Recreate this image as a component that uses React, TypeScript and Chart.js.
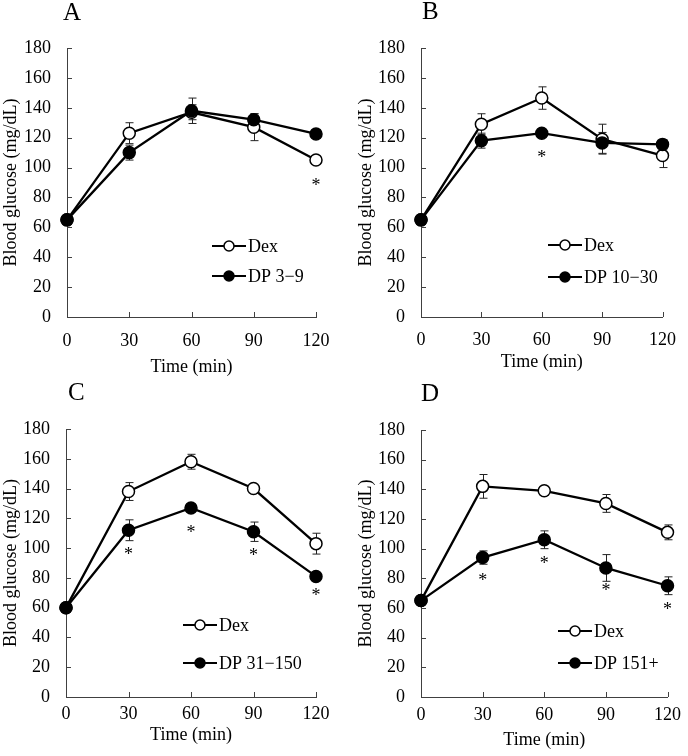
import React, { useEffect, useRef } from "react";
import { Chart, registerables } from "chart.js";

Chart.register(...registerables);

// ---------------- data ----------------
const times = [0, 30, 60, 90, 120];
const xTickStep = 30;
const yTickStep = 20;
const yMax = 180;
const xMax = 120;

const panelLetters = ["A", "B", "C", "D"];
const dexLabel = "Dex";
const dpLabels = ["DP 3\u22129", "DP 10\u221230", "DP 31\u2212150", "DP 151+"];

const dexA = [65, 123, 137, 127, 105];
const dexErrA = [0, 7, 5, 9, 2];
const dpA = [65, 110, 138, 132, 122.5];
const dpErrA = [0, 5, 8.5, 4, 3];
const starA = [null, null, null, null, 90];

const dexB = [65, 129, 146.5, 119, 108];
const dexErrB = [0, 7, 7.5, 10, 8];
const dpB = [65, 118, 123, 116.5, 115.5];
const dpErrB = [0, 5, 2, 7, 3];
const starB = [null, null, 108.5, null, null];

const dexC = [60, 138, 158, 140, 103];
const dexErrC = [0, 6, 5, 2, 7];
const dpC = [60, 112, 127, 111, 81];
const dpErrC = [0, 7, 2, 6.5, 2];
const starC = [null, 97.5, 112.5, 96.5, 70];

const dexD = [65, 142, 139, 130.5, 111];
const dexErrD = [0, 8, 3, 6, 5];
const dpD = [65, 94, 106, 87, 75];
const dpErrD = [0, 4.5, 6, 9, 6];
const starD = [null, 80, 92, 73.5, 60.5];

const dexSeries = [dexA, dexB, dexC, dexD];
const dexErrSeries = [dexErrA, dexErrB, dexErrC, dexErrD];
const dpSeries = [dpA, dpB, dpC, dpD];
const dpErrSeries = [dpErrA, dpErrB, dpErrC, dpErrD];
const starSeries = [starA, starB, starC, starD];

// ---------------- layout / style ----------------
const FONT = '"Liberation Serif", "Times New Roman", Times, serif';
const AXIS_COLOR = "#404040";
const CANVAS_W = 344;
const CANVAS_H = 378;

const LAYOUT = [
  { left: 0, top: 0, padL: 0, padR: 28, padT: 48, padB: 0, yW: 67, xH: 61, xTickPad: 13, letterX: 63, letterY: 20, legX: 212, legY1: 246, legY2: 276 },
  { left: 344, top: 0, padL: 11, padR: 18, padT: 48, padB: 5, yW: 66, xH: 56, xTickPad: 12, letterX: 78, letterY: 19, legX: 204, legY1: 245, legY2: 277 },
  { left: 0, top: 378, padL: 0, padR: 28, padT: 51, padB: 10, yW: 66, xH: 49, xTickPad: 6, letterX: 68, letterY: 22, legX: 183, legY1: 247, legY2: 285 },
  { left: 344, top: 378, padL: 11, padR: 15, padT: 52, padB: 5, yW: 66, xH: 54, xTickPad: 7, letterX: 77, letterY: 23, legX: 214, legY1: 253, legY2: 285 },
];

function makePlugin(idx: number) {
  const L = LAYOUT[idx];
  return {
    id: "panelExtras" + idx,
    beforeDatasetsDraw(chart: any) {
      const ctx = chart.ctx;
      const xs = chart.scales.x;
      const ys = chart.scales.y;
      const { left, bottom } = chart.chartArea;
      ctx.save();
      // inward tick marks
      ctx.strokeStyle = AXIS_COLOR;
      ctx.lineWidth = 1;
      xs.ticks.forEach((t: any) => {
        const px = Math.round(xs.getPixelForValue(t.value)) + 0.5;
        ctx.beginPath();
        ctx.moveTo(px, bottom);
        ctx.lineTo(px, bottom - 5);
        ctx.stroke();
      });
      ys.ticks.forEach((t: any) => {
        const py = Math.round(ys.getPixelForValue(t.value)) + 0.5;
        ctx.beginPath();
        ctx.moveTo(left, py);
        ctx.lineTo(left + 5, py);
        ctx.stroke();
      });
      // error bars
      const sets = [
        { vals: dexSeries[idx], errs: dexErrSeries[idx] },
        { vals: dpSeries[idx], errs: dpErrSeries[idx] },
      ];
      ctx.strokeStyle = "#222";
      ctx.lineWidth = 1;
      sets.forEach((s) => {
        s.vals.forEach((v, i) => {
          const e = s.errs[i];
          if (!e) return;
          const px = Math.round(xs.getPixelForValue(times[i])) + 0.5;
          const pTop = ys.getPixelForValue(v + e);
          const pBot = ys.getPixelForValue(v - e);
          ctx.beginPath();
          ctx.moveTo(px, pTop);
          ctx.lineTo(px, pBot);
          ctx.moveTo(px - 4, pTop);
          ctx.lineTo(px + 4, pTop);
          ctx.moveTo(px - 4, pBot);
          ctx.lineTo(px + 4, pBot);
          ctx.stroke();
        });
      });
      ctx.restore();
    },
    afterDatasetsDraw(chart: any) {
      const ctx = chart.ctx;
      const xs = chart.scales.x;
      const ys = chart.scales.y;
      ctx.save();
      // asterisks
      ctx.fillStyle = "#000";
      ctx.font = `18px ${FONT}`;
      ctx.textAlign = "center";
      ctx.textBaseline = "alphabetic";
      starSeries[idx].forEach((v, i) => {
        if (v == null) return;
        const px = xs.getPixelForValue(times[i]);
        const py = ys.getPixelForValue(v);
        ctx.fillText("*", px, py + 8);
      });
      // panel letter
      ctx.textAlign = "left";
      ctx.font = `25px ${FONT}`;
      ctx.fillText(panelLetters[idx], L.letterX, L.letterY);
      // legend
      const items = [
        { label: dexLabel, fill: "#fff", y: L.legY1 },
        { label: dpLabels[idx], fill: "#000", y: L.legY2 },
      ];
      ctx.font = `18px ${FONT}`;
      ctx.textBaseline = "middle";
      items.forEach((it) => {
        ctx.strokeStyle = "#000";
        ctx.lineWidth = 2.2;
        ctx.beginPath();
        ctx.moveTo(L.legX, it.y);
        ctx.lineTo(L.legX + 34, it.y);
        ctx.stroke();
        ctx.beginPath();
        ctx.arc(L.legX + 17, it.y, 5, 0, Math.PI * 2);
        ctx.fillStyle = it.fill;
        ctx.fill();
        ctx.lineWidth = 1.5;
        ctx.stroke();
        ctx.fillStyle = "#000";
        ctx.fillText(it.label, L.legX + 36, it.y + 1);
      });
      ctx.restore();
    },
  };
}

function Panel({ idx }: { idx: number }) {
  const ref = useRef<HTMLCanvasElement | null>(null);
  useEffect(() => {
    if (!ref.current) return;
    const L = LAYOUT[idx];
    const font = { family: FONT, size: 18 };
    const chart = new Chart(ref.current, {
      type: "line",
      data: {
        datasets: [
          {
            label: dexLabel,
            data: times.map((t, i) => ({ x: t, y: dexSeries[idx][i] })),
            borderColor: "#000",
            borderWidth: 2.3,
            pointRadius: 6,
            pointBackgroundColor: "#fff",
            pointBorderColor: "#000",
            pointBorderWidth: 1.5,
            clip: false as any,
            order: 1,
          },
          {
            label: dpLabels[idx],
            data: times.map((t, i) => ({ x: t, y: dpSeries[idx][i] })),
            borderColor: "#000",
            borderWidth: 2.3,
            pointRadius: 6,
            pointBackgroundColor: "#000",
            pointBorderColor: "#000",
            pointBorderWidth: 1.5,
            clip: false as any,
            order: 0,
          },
        ],
      },
      options: {
        animation: false,
        responsive: false,
        devicePixelRatio: 1,
        layout: { padding: { left: L.padL, right: L.padR, top: L.padT, bottom: L.padB } },
        plugins: { legend: { display: false }, tooltip: { enabled: false } },
        scales: {
          x: {
            type: "linear",
            min: 0,
            max: xMax,
            ticks: { stepSize: xTickStep, font, color: "#000", padding: L.xTickPad, maxRotation: 0 },
            grid: { display: false, drawTicks: false },
            border: { display: true, color: AXIS_COLOR, width: 1 },
            title: { display: true, text: "Time (min)", font, color: "#000", padding: 0 },
            afterFit: (s: any) => {
              s.height = L.xH;
            },
          },
          y: {
            type: "linear",
            min: 0,
            max: yMax,
            ticks: { stepSize: yTickStep, font, color: "#000", padding: 16 },
            grid: { display: false, drawTicks: false },
            border: { display: true, color: AXIS_COLOR, width: 1 },
            title: { display: true, text: "Blood glucose (mg/dL)", font, color: "#000", padding: 0 },
            afterFit: (s: any) => {
              s.width = L.yW;
            },
          },
        },
      } as any,
      plugins: [makePlugin(idx) as any],
    });
    return () => chart.destroy();
  }, [idx]);
  const L = LAYOUT[idx];
  return (
    <canvas
      ref={ref}
      width={CANVAS_W}
      height={CANVAS_H}
      style={{ position: "absolute", left: L.left, top: L.top, width: CANVAS_W, height: CANVAS_H, display: "block" }}
    />
  );
}

export default function App() {
  return (
    <div style={{ position: "fixed", left: 0, top: 0, width: 688, height: 756, background: "#fff", overflow: "hidden" }}>
      {[0, 1, 2, 3].map((i) => (
        <Panel key={i} idx={i} />
      ))}
    </div>
  );
}
